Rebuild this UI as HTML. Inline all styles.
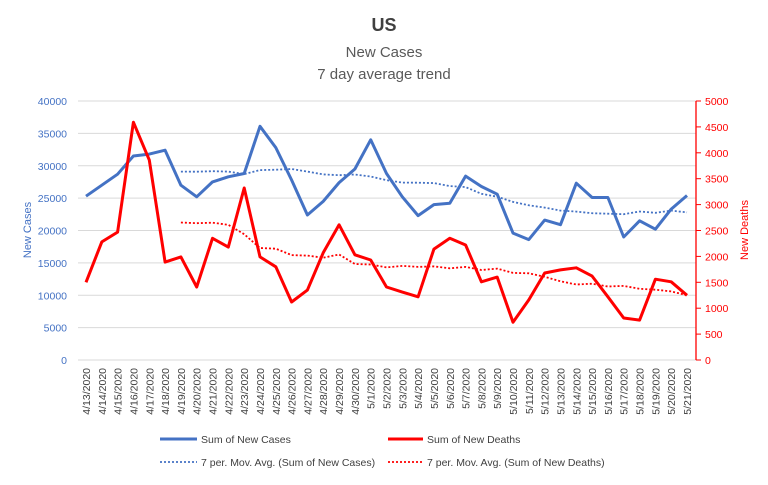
<!DOCTYPE html>
<html><head><meta charset="utf-8"><style>
body{margin:0;background:#fff;font-family:"Liberation Sans",sans-serif}
svg text{font-family:"Liberation Sans",sans-serif}
</style></head><body>
<svg id="c" width="768" height="480" xmlns="http://www.w3.org/2000/svg">
<text x="384" y="31" text-anchor="middle" font-size="18" font-weight="bold" fill="#404040">US</text>
<text x="384" y="57" text-anchor="middle" font-size="15" fill="#595959">New Cases</text>
<text x="384" y="79" text-anchor="middle" font-size="15" fill="#595959">7 day average trend</text>
<text transform="translate(31,230) rotate(-90)" text-anchor="middle" font-size="11" fill="#4472C4">New Cases</text>
<text transform="translate(748,230) rotate(-90)" text-anchor="middle" font-size="11" fill="#FF0000">New Deaths</text>
<g id="grid"></g><g id="axes"></g><g id="series"></g><g id="legend"></g>
</svg>
<script>
const dates=["4/13/2020","4/14/2020","4/15/2020","4/16/2020","4/17/2020","4/18/2020","4/19/2020","4/20/2020","4/21/2020","4/22/2020","4/23/2020","4/24/2020","4/25/2020","4/26/2020","4/27/2020","4/28/2020","4/29/2020","4/30/2020","5/1/2020","5/2/2020","5/3/2020","5/4/2020","5/5/2020","5/6/2020","5/7/2020","5/8/2020","5/9/2020","5/10/2020","5/11/2020","5/12/2020","5/13/2020","5/14/2020","5/15/2020","5/16/2020","5/17/2020","5/18/2020","5/19/2020","5/20/2020","5/21/2020"];
const cases=[25300,27000,28700,31500,31800,32400,27000,25200,27500,28300,28800,36100,32800,27800,22400,24500,27400,29500,34000,28800,25200,22300,24000,24200,28400,26800,25600,19600,18600,21600,20900,27300,25100,25100,19000,21500,20200,23300,25400];
const deaths=[1500,2280,2470,4590,3860,1890,1990,1410,2350,2180,3320,1990,1800,1120,1350,2070,2610,2030,1930,1410,1310,1220,2140,2350,2220,1510,1600,730,1160,1680,1740,1780,1620,1220,810,770,1560,1510,1250];
const leftTicks=[0,5000,10000,15000,20000,25000,30000,35000,40000];
const rightTicks=[0,500,1000,1500,2000,2500,3000,3500,4000,4500,5000];
const NS="http://www.w3.org/2000/svg";
const X0=86,X1=687,Y0=360,Y1=101;
const x=i=>X0+i*(X1-X0)/(dates.length-1);
const yL=v=>Y0-v/40000*(Y0-Y1);
const yR=v=>Y0-v/5000*(Y0-Y1);
function mk(tag,attrs,parent){const e=document.createElementNS(NS,tag);for(const k in attrs)e.setAttribute(k,attrs[k]);parent.appendChild(e);return e;}
const grid=document.getElementById('grid'),axes=document.getElementById('axes'),ser=document.getElementById('series'),leg=document.getElementById('legend');
leftTicks.forEach(t=>{
  const l=mk('line',{x1:78,x2:696,y1:yL(t),y2:yL(t),stroke:'#d9d9d9','stroke-width':1},grid);
  
  
  const tx=mk('text',{x:67,y:yL(t)+4,'text-anchor':'end','font-size':10.5,fill:'#4472C4'},axes);tx.textContent=t;
  
  
});
const sp=mk('line',{x1:696,x2:696,y1:Y1,y2:Y0,stroke:'#FF0000','stroke-width':1.3},axes);


rightTicks.forEach(t=>{
  mk('line',{x1:696,x2:701,y1:yR(t),y2:yR(t),stroke:'#FF0000','stroke-width':1},axes);
  const tx=mk('text',{x:705,y:yR(t)+4,'font-size':10.5,fill:'#FF0000'},axes);tx.textContent=t;
  
  
});
dates.forEach((d,i)=>{
  const tx=mk('text',{transform:`translate(${x(i)+4},368) rotate(-90)`,'text-anchor':'end','font-size':10.5,fill:'#404040'},axes);tx.textContent=d;
  
  
});
function ma(a){const r=[];for(let i=6;i<a.length;i++){let s=0;for(let j=i-6;j<=i;j++)s+=a[j];r.push([i,s/7]);}return r;}
function path(pts,fy){return pts.map((p,k)=>(k?'L':'M')+x(p[0]).toFixed(1)+' '+fy(p[1]).toFixed(1)).join(' ');}
let p=mk('path',{d:path(ma(cases),yL),fill:'none',stroke:'#4472C4','stroke-width':1.8,'stroke-dasharray':'2 2'},ser);


p=mk('path',{d:path(ma(deaths),yR),fill:'none',stroke:'#FF0000','stroke-width':1.8,'stroke-dasharray':'2 2'},ser);


p=mk('path',{d:path(cases.map((v,i)=>[i,v]),yL),fill:'none',stroke:'#4472C4','stroke-width':3,'stroke-linejoin':'round'},ser);


p=mk('path',{d:path(deaths.map((v,i)=>[i,v]),yR),fill:'none',stroke:'#FF0000','stroke-width':3,'stroke-linejoin':'round'},ser);


const L=[[160,439,'#4472C4',3,'',37,'Sum of New Cases'],[388,439,'#FF0000',3,'',35,'Sum of New Deaths'],[160,462,'#4472C4',1.8,'2 2',37,'7 per. Mov. Avg. (Sum of New Cases)'],[388,462,'#FF0000',1.8,'2 2',35,'7 per. Mov. Avg. (Sum of New Deaths)']];
L.forEach(e=>{
  const g=mk('g',{},leg);
  
  
  const a={x1:e[0],x2:e[0]+e[5],y1:e[1],y2:e[1],stroke:e[2],'stroke-width':e[3]};if(e[4])a['stroke-dasharray']=e[4];
  mk('line',a,g);
  const t=mk('text',{x:e[0]+e[5]+4,y:e[1]+4,'font-size':10.5,fill:'#404040'},g);t.textContent=e[6];
});
</script>
</body></html>
